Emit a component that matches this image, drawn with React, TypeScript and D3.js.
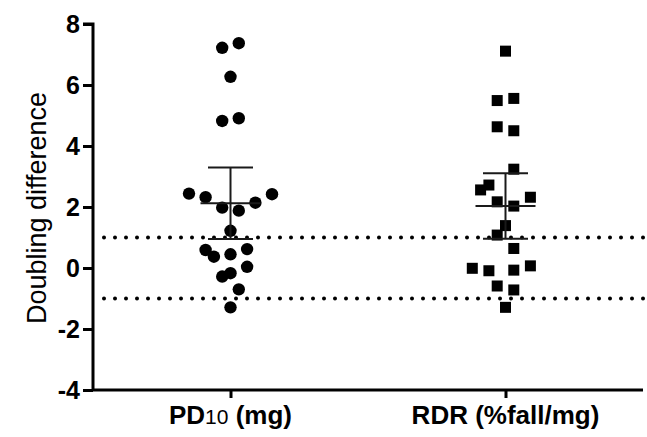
import {useEffect, useRef} from "react";
import * as d3 from "d3";

// groups on the x axis
const categories = ["PD10 (mg)", "RDR (%fall/mg)"];

// doubling difference
const pd10Values = [7.22, 7.37, 6.27, 4.82, 4.91, 2.44, 2.32, 2.42, 2.14, 1.98, 1.88,
    1.22, 0.59, 0.37, 0.45, 0.62, 0.04, -0.28, -0.17, -0.70, -1.29];
// scatter lane of each point (left/right of the column centre)
const pd10Lanes = [-1, 1, 0, -1, 1, -5, -3, 5, 3, -1, 1, 0, -3, -2, 0, 2, 2, -1, 0, 1, 0];

const rdrValues = [7.11, 5.49, 5.56, 4.63, 4.50, 3.24, 2.72, 2.56, 2.32, 2.17, 2.03,
    1.39, 1.08, 0.64, -0.01, -0.09, -0.07, 0.07, -0.59, -0.72, -1.29];
const rdrLanes = [0, -1, 1, -1, 1, 1, -2, -3, 3, -1, 1, 0, -1, 1, -4, -2, 1, 3, -1, 1, 0];

const yTicks = [-4, -2, 0, 2, 4, 6, 8];
const limits = [-1, 1];

// t(0.975, df = 20) for the 95% CI of the mean
const T_CRIT = 2.086;

const FONT = "Liberation Sans, Arial, sans-serif";

const App = () => {
    const svgRef = useRef<SVGSVGElement>(null);

    useEffect(() => {
        const svg = d3.select(svgRef.current);
        svg.selectAll("*").remove();

        const left = 93, right = 643, top = 24, bottom = 390;

        const y = d3.scaleLinear().domain([-4, 8]).range([bottom, top]);
        const x = d3.scalePoint<string>().domain(categories).range([left, right]).padding(0.5);
        const lane = d3.scaleLinear().domain([0, 1]).range([0, 8.3]);

        // reference lines at +-1
        svg.append("g")
            .selectAll("line")
            .data(limits)
            .enter()
            .append("line")
            .attr("x1", left + 11)
            .attr("x2", 647)
            .attr("y1", d => y(d))
            .attr("y2", d => y(d))
            .attr("stroke", "#000")
            .attr("stroke-width", 4)
            .attr("stroke-linecap", "round")
            .attr("stroke-dasharray", "0 11");

        // y axis
        const yAxis = svg.append("g")
            .attr("transform", `translate(${left},0)`)
            .call(d3.axisLeft(y).tickValues(yTicks).tickSize(10).tickPadding(3).tickFormat(d => String(d)));
        yAxis.select(".domain").attr("stroke-width", 3).attr("d", `M-10,${top}H0V${bottom}`);
        yAxis.selectAll(".tick line").attr("stroke-width", 3);
        yAxis.selectAll("text")
            .attr("font-family", FONT)
            .attr("font-size", 25)
            .attr("font-weight", "bold")
            .attr("fill", "#000");

        // x axis
        const xAxis = svg.append("g")
            .attr("transform", `translate(0,${bottom})`)
            .call(d3.axisBottom(x).tickSize(8).tickFormat(() => ""));
        xAxis.select(".domain").attr("stroke-width", 3).attr("d", `M${left},0H${right}`);
        xAxis.selectAll(".tick line").attr("stroke-width", 3);

        const labels = svg.append("g")
            .attr("font-family", FONT)
            .attr("font-size", 26)
            .attr("font-weight", "bold");
        const lab1 = labels.append("text")
            .attr("x", x(categories[0])!)
            .attr("y", 424)
            .attr("text-anchor", "middle");
        lab1.append("tspan").text("PD");
        lab1.append("tspan").attr("font-weight", "normal").attr("font-size", 21).text("10");
        lab1.append("tspan").text(" (mg)");
        labels.append("text")
            .attr("x", x(categories[1])!)
            .attr("y", 424)
            .attr("text-anchor", "middle")
            .text(categories[1]);

        // y label
        svg.append("text")
            .attr("transform", `translate(46,${(top + bottom) / 2 + 1}) rotate(-90)`)
            .attr("text-anchor", "middle")
            .attr("font-family", FONT)
            .attr("font-size", 27)
            .text("Doubling difference");

        const groups = [
            {cat: categories[0], values: pd10Values, lanes: pd10Lanes, shape: "circle"},
            {cat: categories[1], values: rdrValues, lanes: rdrLanes, shape: "square"},
        ];

        groups.forEach(g => {
            const cx = x(g.cat)!;
            const pts = g.values.map((v, i) => ({v, l: g.lanes[i]}));
            const layer = svg.append("g");
            if (g.shape === "circle") {
                layer.selectAll("circle")
                    .data(pts)
                    .enter()
                    .append("circle")
                    .attr("cx", d => cx + lane(d.l))
                    .attr("cy", d => y(d.v))
                    .attr("r", 6.2)
                    .attr("fill", "#000");
            } else {
                const s = 11;
                layer.selectAll("rect")
                    .data(pts)
                    .enter()
                    .append("rect")
                    .attr("x", d => cx + lane(d.l) - s / 2)
                    .attr("y", d => y(d.v) - s / 2)
                    .attr("width", s)
                    .attr("height", s)
                    .attr("fill", "#000");
            }

            // mean with 95% CI
            const m = d3.mean(g.values)!;
            const ci = T_CRIT * d3.deviation(g.values)! / Math.sqrt(g.values.length);
            const bars = svg.append("g").attr("stroke", "#1a1a1a").attr("stroke-width", 2);
            bars.append("line")
                .attr("x1", cx).attr("x2", cx)
                .attr("y1", y(m + ci)).attr("y2", y(m - ci));
            bars.append("line")
                .attr("x1", cx - 30).attr("x2", cx + 30)
                .attr("y1", y(m)).attr("y2", y(m));
            [m + ci, m - ci].forEach(v => {
                bars.append("line")
                    .attr("x1", cx - 22.5).attr("x2", cx + 22.5)
                    .attr("y1", y(v)).attr("y2", y(v));
            });
        });
    }, []);

    return (
        <div>
            <svg ref={svgRef} width={647} height={437} style={{position: "absolute", left: 0, top: 0, background: "#fff"}}/>
        </div>
    );
};

export default App;
